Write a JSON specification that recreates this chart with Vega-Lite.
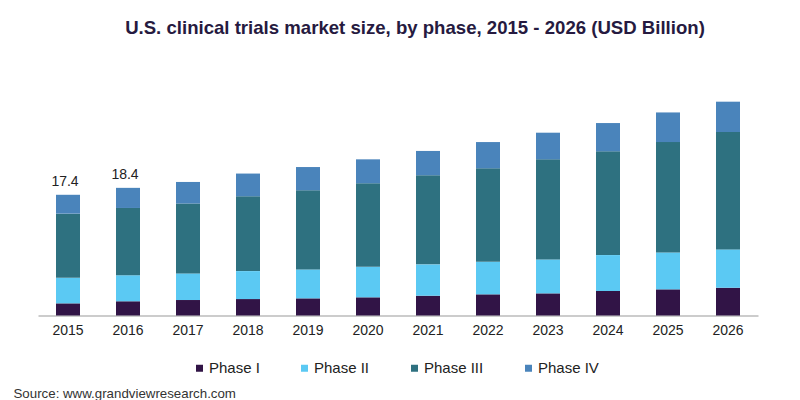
{
  "$schema": "https://vega.github.io/schema/vega-lite/v6.json",
  "autosize": "none",
  "width": 720,
  "height": 222,
  "padding": {"left": 38, "top": 93.5, "right": 42, "bottom": 84.5},
  "background": "white",
  "title": {
    "text": "U.S. clinical trials market size, by phase, 2015 - 2026 (USD Billion)",
    "font": "Liberation Sans Narrow, Arial Narrow, Liberation Sans",
    "fontSize": 18.6,
    "fontWeight": "bold",
    "color": "#261a40",
    "anchor": "middle",
    "baseline": "alphabetic",
    "offset": 40.5,
    "dx": 17
  },
  "data": {
    "values": [
      {"year": "2015", "phase": "Phase I", "value": 1.75},
      {"year": "2015", "phase": "Phase II", "value": 3.68},
      {"year": "2015", "phase": "Phase III", "value": 9.25},
      {"year": "2015", "phase": "Phase IV", "value": 2.72},
      {"year": "2016", "phase": "Phase I", "value": 2.05},
      {"year": "2016", "phase": "Phase II", "value": 3.75},
      {"year": "2016", "phase": "Phase III", "value": 9.7},
      {"year": "2016", "phase": "Phase IV", "value": 2.9},
      {"year": "2017", "phase": "Phase I", "value": 2.23},
      {"year": "2017", "phase": "Phase II", "value": 3.84},
      {"year": "2017", "phase": "Phase III", "value": 10.07},
      {"year": "2017", "phase": "Phase IV", "value": 3.11},
      {"year": "2018", "phase": "Phase I", "value": 2.37},
      {"year": "2018", "phase": "Phase II", "value": 4.03},
      {"year": "2018", "phase": "Phase III", "value": 10.79},
      {"year": "2018", "phase": "Phase IV", "value": 3.27},
      {"year": "2019", "phase": "Phase I", "value": 2.47},
      {"year": "2019", "phase": "Phase II", "value": 4.17},
      {"year": "2019", "phase": "Phase III", "value": 11.41},
      {"year": "2019", "phase": "Phase IV", "value": 3.35},
      {"year": "2020", "phase": "Phase I", "value": 2.62},
      {"year": "2020", "phase": "Phase II", "value": 4.4},
      {"year": "2020", "phase": "Phase III", "value": 12.04},
      {"year": "2020", "phase": "Phase IV", "value": 3.45},
      {"year": "2021", "phase": "Phase I", "value": 2.85},
      {"year": "2021", "phase": "Phase II", "value": 4.52},
      {"year": "2021", "phase": "Phase III", "value": 12.85},
      {"year": "2021", "phase": "Phase IV", "value": 3.5},
      {"year": "2022", "phase": "Phase I", "value": 3.05},
      {"year": "2022", "phase": "Phase II", "value": 4.69},
      {"year": "2022", "phase": "Phase III", "value": 13.48},
      {"year": "2022", "phase": "Phase IV", "value": 3.78},
      {"year": "2023", "phase": "Phase I", "value": 3.19},
      {"year": "2023", "phase": "Phase II", "value": 4.89},
      {"year": "2023", "phase": "Phase III", "value": 14.43},
      {"year": "2023", "phase": "Phase IV", "value": 3.84},
      {"year": "2024", "phase": "Phase I", "value": 3.53},
      {"year": "2024", "phase": "Phase II", "value": 5.18},
      {"year": "2024", "phase": "Phase III", "value": 14.96},
      {"year": "2024", "phase": "Phase IV", "value": 4.07},
      {"year": "2025", "phase": "Phase I", "value": 3.77},
      {"year": "2025", "phase": "Phase II", "value": 5.32},
      {"year": "2025", "phase": "Phase III", "value": 15.91},
      {"year": "2025", "phase": "Phase IV", "value": 4.27},
      {"year": "2026", "phase": "Phase I", "value": 4.0},
      {"year": "2026", "phase": "Phase II", "value": 5.53},
      {"year": "2026", "phase": "Phase III", "value": 16.92},
      {"year": "2026", "phase": "Phase IV", "value": 4.37}
    ]
  },
  "layer": [
    {
      "mark": {"type": "bar"},
      "encoding": {
        "x": {
          "field": "year",
          "type": "ordinal",
          "scale": {"paddingInner": 0.6, "paddingOuter": 0.3},
          "axis": {
            "title": "Source: www.grandviewresearch.com",
            "titleFont": "Liberation Sans",
            "titleFontSize": 13.3,
            "titleFontWeight": "normal",
            "titleColor": "#333333",
            "titleAnchor": "start",
            "titleAlign": "left",
            "titleBaseline": "alphabetic",
            "titleX": -25,
            "titleY": 81.5,
            "labelAngle": 0,
            "labelFont": "Liberation Sans",
            "labelFontSize": 14,
            "labelColor": "#222222",
            "labelPadding": 7.5,
            "ticks": false,
            "domainColor": "#999999",
            "domainWidth": 1
          }
        },
        "y": {
          "field": "value",
          "type": "quantitative",
          "aggregate": "sum",
          "stack": "zero",
          "scale": {"domain": [0, 32], "nice": false},
          "axis": null
        },
        "order": {"field": "phase", "type": "nominal", "sort": "ascending"},
        "color": {
          "field": "phase",
          "type": "nominal",
          "scale": {
            "domain": ["Phase I", "Phase II", "Phase III", "Phase IV"],
            "range": ["#311446", "#5bc9f3", "#2e7180", "#4a84bb"]
          },
          "legend": {
            "title": null,
            "orient": "none",
            "direction": "horizontal",
            "legendX": 154,
            "legendY": 267,
            "symbolType": "square",
            "symbolSize": 49,
            "symbolStrokeWidth": 0,
            "labelFont": "Liberation Sans",
            "labelFontSize": 15,
            "labelColor": "#222222",
            "labelOffset": 2,
            "columnPadding": 37
          }
        }
      }
    },
    {
      "transform": [
        {"aggregate": [{"op": "sum", "field": "value", "as": "total"}], "groupby": ["year"]},
        {"filter": "datum.year == '2015' || datum.year == '2016'"}
      ],
      "mark": {
        "type": "text",
        "baseline": "alphabetic",
        "align": "center",
        "dy": -9,
        "dx": -3,
        "font": "Liberation Sans",
        "fontSize": 14,
        "color": "#222222"
      },
      "encoding": {
        "x": {"field": "year", "type": "ordinal"},
        "y": {"field": "total", "type": "quantitative"},
        "text": {"field": "total", "type": "quantitative", "format": ".1f"}
      }
    }
  ],
  "config": {
    "view": {"stroke": null}
  }
}
